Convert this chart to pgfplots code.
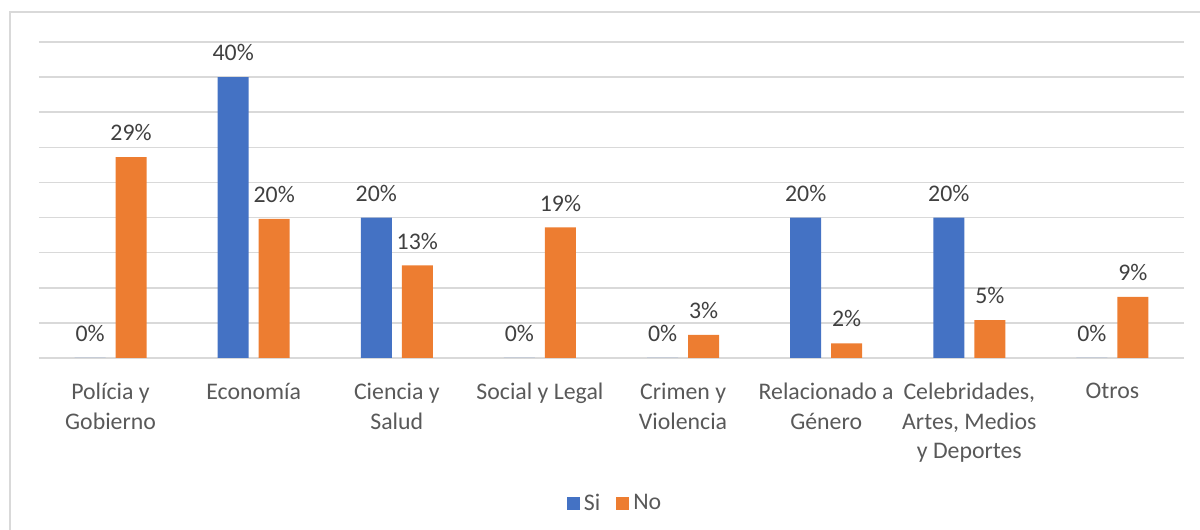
\documentclass[border=0pt]{standalone}
\usepackage{pgfplots}
\pgfplotsset{compat=1.18}
\usepackage{fontspec}
\setmainfont{Carlito}
\definecolor{cblue}{HTML}{4472C4}
\definecolor{corange}{HTML}{ED7D31}
\definecolor{cgrid}{HTML}{D9D9D9}
\definecolor{ctick}{HTML}{595959}
\definecolor{clab}{HTML}{404040}
\begin{document}
\begin{tikzpicture}
\useasboundingbox (0,0) rectangle (600pt,265pt);
\draw[cgrid, line width=0.75pt] (5pt,0) -- (5pt,259pt) -- (600pt,259pt);
\begin{axis}[
  at={(19.5pt,86pt)}, anchor=south west,
  scale only axis, width=572.5pt, height=158pt,
  ybar=5pt, bar width=15.5pt,
  xmin=-0.5, xmax=7.5, ymin=0, ymax=45,
  ytick={0,5,...,45}, yticklabels={},
  ymajorgrids, grid style={cgrid, line width=0.75pt},
  major tick length=0pt,
  axis line style={draw=none},
  xtick={0,...,7},
  xticklabels={{Polícia y\\Gobierno},{Economía},{Ciencia y\\Salud},{Social y Legal},{Crimen y\\Violencia},{Relacionado a\\Género},{Celebridades,\\Artes, Medios\\y Deportes},{Otros}},
  xticklabel style={align=center, font=\fontsize{11.9pt}{14.8pt}\selectfont, text=ctick, yshift=-9pt},
  nodes near coords={\pgfplotspointmeta\%},
  point meta=explicit symbolic,
  every node near coord/.append style={font=\fontsize{11.9pt}{14pt}\selectfont, text=clab, yshift=4.5pt},
  legend style={at={(0.504,-0.46)}, anchor=center, draw=none, legend columns=2,
    font=\fontsize{11.9pt}{14pt}\selectfont, text=ctick,
    /tikz/every even column/.append style={column sep=6pt}},
  legend image code/.code={\fill[#1] (0pt,-3.25pt) rectangle (6.5pt,3.25pt);},
]
\addplot[fill=cblue, draw=none] table[meta=lab] {
x y lab
0 0 0
1 40 40
2 20 20
3 0 0
4 0 0
5 20 20
6 20 20
7 0 0
};
\addplot[fill=corange, draw=none] table[meta=lab] {
x y lab
0 28.6 29
1 19.8 20
2 13.2 13
3 18.6 19
4 3.3 3
5 2.1 2
6 5.4 5
7 8.7 9
};
\legend{Si, No}
\end{axis}
\end{tikzpicture}
\end{document}
